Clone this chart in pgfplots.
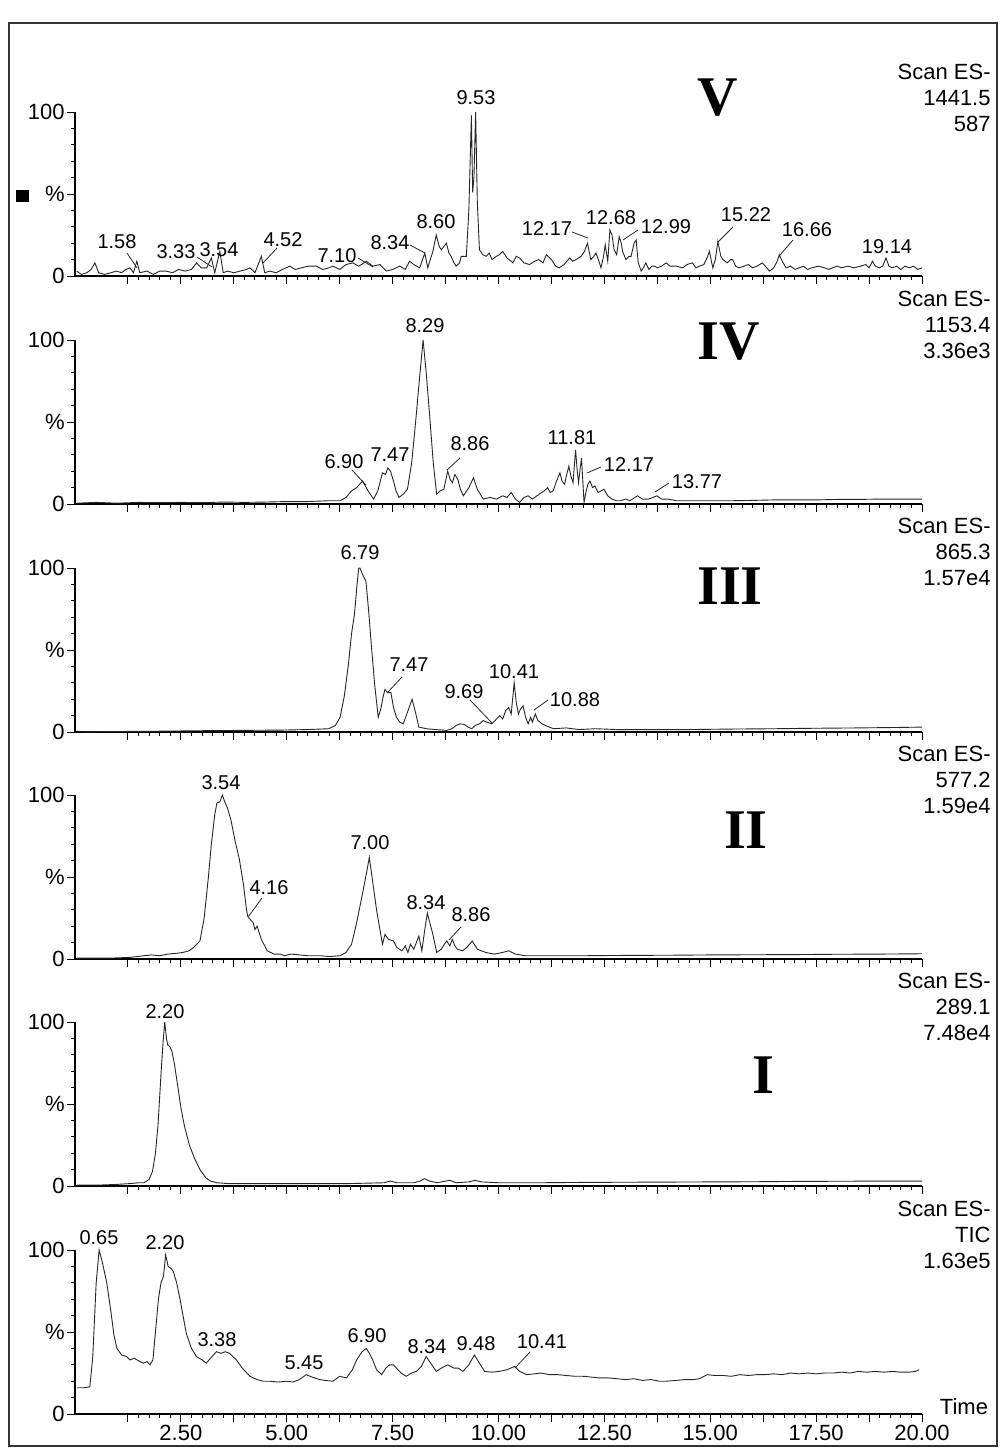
\documentclass[border=0pt]{standalone}
\usepackage{pgfplots}
\pgfplotsset{compat=1.18}
\usepackage{fontspec}
\setmainfont{Liberation Sans}
\newfontfamily\romanfont{Liberation Serif}

\pgfplotsset{
  chrom/.style={
    scale only axis, width=423.5pt, height=82pt,
    xmin=0, xmax=20, ymin=0, ymax=100,
    axis lines*=left,
    axis line style={line width=0.6pt, black},
    clip=false,
    xtick={1.25,2.5,3.75,5,6.25,7.5,8.75,10,11.25,12.5,13.75,15,16.25,17.5,18.75,20},
    xticklabels={},
    minor x tick num=4,
    ytick={0,50,100},
    yticklabels={0,\%,100},
    minor y tick num=4,
    tick align=outside,
    major tick length=4pt,
    minor tick length=2.2pt,
    tick style={black, line width=0.5pt},
    tick label style={font=\fontsize{11}{13}\selectfont},
    yticklabel style={inner sep=1pt},
    xticklabel style={inner sep=1.5pt},
    anchor=south west,
  },
  trace/.style={black!85, line width=0.45pt, mark=none},
}

\newcommand{\rlab}[4]{%
  \node[anchor=base east, inner sep=0pt, font=\fontsize{11}{13}\selectfont] at (991,#1) {#2};
  \node[anchor=base east, inner sep=0pt, font=\fontsize{11}{13}\selectfont] at (991,#1+26) {#3};
  \node[anchor=base east, inner sep=0pt, font=\fontsize{11}{13}\selectfont] at (991,#1+52) {#4};
}

\begin{document}
\begin{tikzpicture}
% ---------------- Panel V ----------------
\begin{axis}[chrom, at={(37.5pt,-138pt)}]
\addplot[trace] coordinates {(0.04,3)(0.15,1)(0.28,2)(0.38,4)(0.47,8)(0.56,2)(0.7,1)(0.85,2)(0.98,3)(1.1,2)(1.2,4)(1.3,5)(1.38,2)(1.46,9)(1.53,2)(1.7,3)(1.85,1)(2.0,3)(2.16,3)(2.3,2)(2.45,4)(2.6,3)(2.75,4)(2.87,8)(2.98,5)(3.11,5)(3.22,11)(3.3,2)(3.42,15)(3.5,2)(3.6,3)(3.75,2)(3.9,3)(4.05,4)(4.13,5)(4.25,2)(4.4,12)(4.48,2)(4.6,3)(4.75,2)(4.9,4)(5.07,6)(5.2,4)(5.35,5)(5.5,6)(5.7,6)(5.85,4)(6.0,5)(6.09,6)(6.25,4)(6.4,7)(6.56,8)(6.7,6)(6.88,9)(7.03,6)(7.2,7)(7.35,3)(7.5,4)(7.67,6)(7.8,4)(7.9,9)(8.0,7)(8.14,5)(8.26,14)(8.33,5)(8.45,15)(8.53,25)(8.6,18)(8.65,16)(8.77,20)(8.83,14)(8.88,12)(8.95,8)(9.0,6)(9.08,8)(9.12,12)(9.24,12)(9.3,40)(9.36,98)(9.39,51)(9.42,60)(9.46,100)(9.5,45)(9.55,16)(9.63,13)(9.71,12)(9.78,14)(9.85,10)(9.95,12)(10.02,13)(10.1,15)(10.2,11)(10.3,9)(10.34,8)(10.42,12)(10.5,11)(10.6,8)(10.73,7)(10.85,9)(10.95,10)(11.05,8)(11.13,13)(11.25,10)(11.35,6)(11.43,5)(11.55,7)(11.68,11)(11.75,9)(11.83,10)(11.95,12)(12.03,15)(12.1,20)(12.18,10)(12.25,12)(12.3,14)(12.36,10)(12.42,5)(12.48,12)(12.52,19)(12.58,9)(12.63,28)(12.68,25)(12.73,16)(12.79,13)(12.85,24)(12.9,20)(12.93,15)(13.01,10)(13.08,12)(13.13,12)(13.2,20)(13.25,22)(13.3,8)(13.37,3)(13.42,5)(13.48,8)(13.55,4)(13.62,6)(13.68,6)(13.75,5)(13.85,6)(13.96,8)(14.05,6)(14.2,6)(14.35,5)(14.45,7)(14.58,8)(14.66,5)(14.74,6)(14.85,7)(14.94,12)(14.98,15)(15.06,5)(15.12,10)(15.18,21)(15.25,12)(15.3,10)(15.4,8)(15.48,10)(15.53,10)(15.6,6)(15.68,5)(15.8,6)(15.9,7)(16.0,5)(16.1,6)(16.23,8)(16.3,6)(16.4,3)(16.5,5)(16.58,9)(16.63,13)(16.7,9)(16.79,5)(16.9,6)(17.0,4)(17.1,5)(17.2,6)(17.3,4)(17.4,5)(17.55,6)(17.7,5)(17.8,4)(17.89,5)(18.0,6)(18.1,5)(18.25,6)(18.4,5)(18.55,6)(18.67,7)(18.75,5)(18.83,9)(18.9,6)(18.99,5)(19.07,6)(19.15,11)(19.22,6)(19.3,5)(19.4,6)(19.5,4)(19.6,6)(19.7,5)(19.8,6)(19.9,4)(20,5)};
\end{axis}
% ---------------- Panel IV ----------------
\begin{axis}[chrom, at={(37.5pt,-252pt)}]
\addplot[trace] coordinates {(0.05,0.5)(0.5,1)(1,0.5)(1.5,1)(2,0.8)(2.5,1)(3,0.8)(3.5,1.2)(4,1)(4.5,1.2)(5,1.5)(5.5,1.5)(6,2)(6.26,2)(6.4,4)(6.53,8)(6.65,10)(6.79,14)(6.92,8)(7.05,3)(7.15,8)(7.26,19)(7.33,18)(7.39,22)(7.45,20)(7.52,14)(7.58,8)(7.65,4)(7.75,6)(7.85,9)(7.95,25)(8.05,52)(8.14,78)(8.22,100)(8.3,78)(8.38,52)(8.46,25)(8.54,6)(8.62,8)(8.71,9)(8.8,20)(8.86,15)(8.91,13)(8.97,18)(9.04,15)(9.1,9)(9.17,5)(9.3,10)(9.41,16)(9.5,9)(9.64,3)(9.8,4)(9.95,3)(10.1,5)(10.2,4)(10.3,7)(10.4,3)(10.5,1)(10.6,4)(10.7,5)(10.8,3)(10.96,6)(11.08,8)(11.16,10)(11.22,7)(11.29,8)(11.37,14)(11.45,19)(11.5,14)(11.56,12)(11.61,18)(11.66,23)(11.71,17)(11.76,13)(11.82,33)(11.86,20)(11.89,13)(11.93,22)(11.96,28)(12.02,1)(12.07,8)(12.11,12)(12.16,14)(12.22,10)(12.28,11)(12.35,7)(12.42,8)(12.49,9)(12.58,5)(12.68,3)(12.78,2)(12.88,2)(13.0,3)(13.1,2)(13.28,5)(13.4,3)(13.54,3)(13.65,4)(13.74,5)(13.85,3)(14.0,3)(14.2,2)(14.5,2)(15,2)(15.5,2)(16,2.2)(16.5,2.5)(17,2.5)(17.5,2.5)(18,2.8)(18.5,2.8)(19,3)(19.5,3)(20,3)};
\end{axis}
% ---------------- Panel III ----------------
\begin{axis}[chrom, at={(37.5pt,-366pt)}]
\addplot[trace] coordinates {(0.05,0)(1,0.3)(2,0.5)(3,0.8)(4,1)(4.93,1.2)(5.5,1.5)(5.99,2)(6.15,4)(6.26,9)(6.36,22)(6.46,42)(6.53,60)(6.6,72)(6.66,90)(6.7,100)(6.73,100)(6.79,96)(6.87,92)(6.94,72)(7.0,52)(7.08,28)(7.16,9)(7.22,14)(7.28,22)(7.32,26)(7.38,24)(7.46,24)(7.52,15)(7.59,9)(7.67,6)(7.75,5)(7.85,12)(7.96,20)(8.04,12)(8.12,3)(8.3,2)(8.5,1.5)(8.78,1)(8.9,2)(9.0,4)(9.1,5)(9.2,4.5)(9.28,3)(9.37,2)(9.45,4)(9.55,5)(9.64,7)(9.72,6)(9.84,5)(9.92,7)(10.03,10)(10.1,8)(10.17,13)(10.24,15)(10.3,11)(10.37,30)(10.42,18)(10.47,11)(10.52,14)(10.58,16)(10.64,9)(10.7,5)(10.76,9)(10.8,6)(10.87,11)(10.93,7)(11.03,5)(11.15,3.5)(11.3,2)(11.6,2.5)(11.9,1.5)(12.3,2)(12.8,1.5)(13.5,1.5)(14.5,1.5)(15.5,1.8)(16.5,2)(17.5,2.3)(18.5,2.5)(19.5,2.8)(20,3)};
\end{axis}
% ---------------- Panel II ----------------
\begin{axis}[chrom, at={(37.5pt,-479.5pt)}]
\addplot[trace] coordinates {(0.05,0.5)(0.8,0.5)(1.3,1)(1.63,2)(1.8,2.5)(2.0,2)(2.2,3)(2.4,3.5)(2.55,4)(2.69,5)(2.8,7)(2.95,11)(3.05,25)(3.15,50)(3.22,70)(3.3,88)(3.35,95)(3.42,96)(3.48,100)(3.52,97)(3.55,95)(3.6,92)(3.68,85)(3.78,72)(3.88,61)(3.98,45)(4.05,30)(4.08,26)(4.14,24)(4.21,22)(4.25,18)(4.3,20)(4.4,12)(4.54,5)(4.7,3)(4.85,3)(4.94,2)(5.1,3)(5.3,2.5)(5.5,2)(5.8,2)(6.0,1.5)(6.26,2)(6.4,4)(6.53,9)(6.65,22)(6.79,40)(6.88,52)(6.95,62)(7.03,47)(7.12,30)(7.2,18)(7.26,9)(7.32,15)(7.4,12)(7.52,11)(7.6,7)(7.72,5)(7.8,8)(7.86,4)(7.92,9)(8.0,6)(8.12,14)(8.19,5)(8.26,18)(8.32,28)(8.38,22)(8.45,15)(8.54,4)(8.65,6)(8.72,9)(8.78,11)(8.85,8)(8.91,12)(8.97,8)(9.03,6)(9.15,5)(9.25,7)(9.38,11)(9.5,6)(9.7,4)(9.9,3)(10.1,4)(10.24,5)(10.4,3)(10.63,2)(11,2)(12,2)(13,2.2)(14,2.3)(15,2.5)(16,2.6)(17,2.7)(18,2.9)(19,3)(20,3.2)};
\end{axis}
% ---------------- Panel I ----------------
\begin{axis}[chrom, at={(37.5pt,-593pt)}]
\addplot[trace] coordinates {(0.05,0.5)(0.5,0.5)(1.0,1)(1.3,1.5)(1.5,2)(1.63,2)(1.75,4)(1.83,9)(1.9,20)(1.96,37)(2.03,68)(2.08,88)(2.12,100)(2.16,90)(2.19,86)(2.24,85)(2.29,82)(2.35,74)(2.42,62)(2.5,48)(2.58,37)(2.7,25)(2.82,17)(2.95,10)(3.09,5)(3.2,3)(3.35,2)(3.6,1.5)(4.0,1.5)(4.5,1.5)(5.0,1.5)(5.5,1.5)(6.0,1.5)(6.5,1.5)(7.0,1.8)(7.3,2)(7.45,3)(7.6,2)(8.0,2)(8.15,3)(8.25,4.5)(8.38,3)(8.55,2)(8.85,3.5)(9.0,2)(9.3,2.5)(9.44,3.5)(9.6,2.5)(10.0,2)(11,2)(12,2.2)(13,2.3)(14,2.4)(15,2.5)(16,2.6)(17,2.8)(18,2.9)(19,3)(20,3)};
\end{axis}
% ---------------- Panel TIC ----------------
\begin{axis}[chrom, at={(37.5pt,-707pt)},
  xticklabels={,2.50,,5.00,,7.50,,10.00,,12.50,,15.00,,17.50,,20.00}]
\addplot[trace] coordinates {(0.05,16)(0.2,16)(0.35,16.5)(0.42,35)(0.5,80)(0.57,100)(0.65,92)(0.75,80)(0.85,62)(0.92,48)(0.99,40)(1.1,36)(1.22,35)(1.3,33)(1.4,34)(1.53,32)(1.62,31)(1.7,32)(1.77,30)(1.84,33)(1.9,50)(1.97,70)(2.03,80)(2.09,84)(2.14,97)(2.2,90)(2.26,89)(2.32,87)(2.4,80)(2.48,70)(2.55,60)(2.63,49)(2.75,40)(2.87,35)(3.0,33)(3.1,31)(3.2,34)(3.34,38)(3.45,37)(3.55,38)(3.65,37)(3.81,33)(3.95,28)(4.13,23)(4.3,21)(4.44,20)(4.6,20)(4.8,19.5)(4.99,20)(5.15,19.5)(5.3,21)(5.46,24)(5.6,22.5)(5.78,21)(5.9,20.5)(6.09,20)(6.25,23)(6.41,22)(6.55,27)(6.65,33)(6.78,38)(6.88,40)(6.95,37)(7.03,33)(7.12,27)(7.24,24)(7.34,28)(7.43,30)(7.52,30)(7.59,28)(7.7,25)(7.82,23)(7.95,25)(8.06,26)(8.18,29)(8.29,35)(8.4,31)(8.53,26)(8.65,28)(8.8,30)(8.95,28)(9.05,28)(9.16,26)(9.3,30)(9.43,36)(9.55,31)(9.67,26)(9.85,25.5)(10.02,26)(10.2,27)(10.38,29)(10.5,26)(10.66,24)(10.85,24.5)(11.0,25)(11.2,24)(11.4,24)(11.6,23.5)(11.8,23)(12.0,23)(12.2,22.5)(12.38,22)(12.6,22)(12.8,21.5)(13.0,21)(13.2,21.5)(13.4,20.5)(13.6,21)(13.8,20)(13.96,20)(14.2,20.5)(14.4,21)(14.6,21)(14.74,21.5)(14.85,23)(14.93,24)(15.1,23.5)(15.3,23.5)(15.5,23)(15.7,24)(15.9,23.5)(16.1,24)(16.3,24)(16.5,24.5)(16.7,24)(16.9,25)(17.1,24.5)(17.3,25)(17.5,24.5)(17.7,25)(17.9,25)(18.1,25.5)(18.3,25)(18.5,26)(18.7,25.5)(18.9,26)(19.1,25.5)(19.3,26)(19.5,25.5)(19.7,25.5)(19.85,26)(19.93,27)};
\end{axis}

% ---------------- annotations (pixel frame) ----------------
\begin{scope}[x=0.5pt,y=-0.5pt,
  pl/.style={inner sep=0pt, font=\fontsize{10}{12}\selectfont},
  rn/.style={inner sep=0pt, font=\romanfont\bfseries\fontsize{28}{30}\selectfont},
  ll/.style={line width=0.4pt, black!85}]
\path (0,0) rectangle (1000,1448);
\draw[line width=0.7pt, black!80] (9,23) rectangle (997,1446);

% Right-hand scan texts
\rlab{79}{Scan ES-}{1441.5}{587}
\rlab{306}{Scan ES-}{1153.4}{3.36e3}
\rlab{533}{Scan ES-}{865.3}{1.57e4}
\rlab{761}{Scan ES-}{577.2}{1.59e4}
\rlab{988}{Scan ES-}{289.1}{7.48e4}
\rlab{1216}{Scan ES-}{TIC}{1.63e5}

% Roman numerals
\node[rn] at (718,98) {V};
\node[rn] at (729,342) {IV};
\node[rn] at (730,586) {III};
\node[rn] at (746,830) {II};
\node[rn] at (763,1075) {I};

% square marker in panel V
\fill[black] (16,190) rectangle (29,202);

% Time label
\node[inner sep=0pt, font=\fontsize{11}{13}\selectfont] at (964,1407) {Time};

% Panel V labels
\node[pl] at (476,98) {9.53};
\node[pl] at (117,242) {1.58};
\draw[ll] (127,253) -- (137,268);
\node[pl] at (176,252) {3.33};
\draw[ll] (197,257) -- (212,267);
\node[pl] at (219,250) {3.54};
\node[pl] at (283,240) {4.52};
\draw[ll] (277,248) -- (263,263);
\node[pl] at (337,256) {7.10};
\draw[ll] (358,258) -- (373,267);
\node[pl] at (390,243) {8.34};
\draw[ll] (410,245) -- (425,253);
\node[pl] at (436,222) {8.60};
\node[pl] at (547,229) {12.17};
\draw[ll] (572,232) -- (588,238);
\node[pl] at (611,218) {12.68};
\node[pl] at (666,227) {12.99};
\draw[ll] (638,230) -- (623,240);
\node[pl] at (746,215) {15.22};
\draw[ll] (733,227) -- (718,242);
\node[pl] at (807,230) {16.66};
\draw[ll] (793,240) -- (780,255);
\node[pl] at (887,247) {19.14};

% Panel IV labels
\node[pl] at (425,326) {8.29};
\node[pl] at (344,462) {6.90};
\draw[ll] (352,470) -- (366,485);
\node[pl] at (390,455) {7.47};
\node[pl] at (470,444) {8.86};
\draw[ll] (460,458) -- (447,470);
\node[pl] at (572,438) {11.81};
\node[pl] at (629,465) {12.17};
\draw[ll] (601,467) -- (587,473);
\node[pl] at (697,482) {13.77};
\draw[ll] (669,483) -- (655,492);

% Panel III labels
\node[pl] at (360,553) {6.79};
\node[pl] at (409,665) {7.47};
\draw[ll] (402,677) -- (388,692);
\node[pl] at (464,692) {9.69};
\draw[ll] (470,700) -- (492,723);
\node[pl] at (514,672) {10.41};
\node[pl] at (575,700) {10.88};
\draw[ll] (548,700) -- (534,710);

% Panel II labels
\node[pl] at (221,783) {3.54};
\node[pl] at (269,888) {4.16};
\draw[ll] (262,898) -- (248,917);
\node[pl] at (370,843) {7.00};
\node[pl] at (426,903) {8.34};
\node[pl] at (471,915) {8.86};
\draw[ll] (461,927) -- (449,940);

% Panel I labels
\node[pl] at (165,1012) {2.20};

% TIC labels
\node[pl] at (99,1238) {0.65};
\node[pl] at (165,1243) {2.20};
\node[pl] at (217,1340) {3.38};
\node[pl] at (304,1363) {5.45};
\node[pl] at (367,1336) {6.90};
\node[pl] at (427,1347) {8.34};
\node[pl] at (476,1344) {9.48};
\node[pl] at (542,1342) {10.41};
\draw[ll] (530,1352) -- (515,1368);
\end{scope}
\end{tikzpicture}
\end{document}
